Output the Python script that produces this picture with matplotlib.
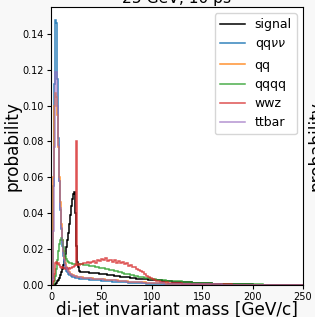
import numpy as np
from matplotlib import pyplot as plt
from matplotlib.lines import Line2D

# bin edges [GeV]: 1 GeV up to 30, 2 GeV up to 120, 10 GeV up to 250
edges = np.concatenate([np.arange(0, 30, 1), np.arange(30, 120, 2), np.arange(120, 251, 10)])

labels = ["signal", "qq$\\nu\\nu$", "qq", "qqqq", "wwz", "ttbar"]

signal = [
    0, 0, 0, 0, 0.0005, 0.001, 0.002, 0.003, 0.004, 0.0055,
    0.007, 0.009, 0.011, 0.014, 0.017, 0.021, 0.025, 0.029, 0.034, 0.039,
    0.044, 0.048, 0.051, 0.052, 0.040, 0.022, 0.013, 0.010, 0.008, 0.0075,
    0.0072, 0.0071, 0.007, 0.007, 0.0069, 0.0068, 0.0067, 0.0066, 0.0065, 0.0064,
    0.0062, 0.0061, 0.006, 0.0058, 0.0056, 0.0054, 0.0052, 0.005, 0.0048, 0.0047,
    0.0046, 0.0044, 0.0043, 0.0042, 0.004, 0.0039, 0.0037, 0.0036, 0.0035, 0.0034,
    0.0033, 0.0032, 0.0031, 0.003, 0.003, 0.0029, 0.0028, 0.0027, 0.0026, 0.0025,
    0.0024, 0.0023, 0.0022, 0.0021, 0.002,
    0.0018, 0.0014, 0.0011, 0.0009, 0.0007, 0.0005, 0.0004, 0.0003, 0.0002, 0.0002,
    0.0001, 0.0001, 0.0001,
]
qqvv = [
    0, 0.004, 0.055, 0.112, 0.148, 0.146, 0.115, 0.082, 0.058, 0.042,
    0.031, 0.022, 0.016, 0.012, 0.0095, 0.008, 0.007, 0.0062, 0.0057, 0.0053,
    0.005, 0.0047, 0.0045, 0.0043, 0.0041, 0.004, 0.0038, 0.0037, 0.0036, 0.0035,
    0.0034, 0.0033, 0.0032, 0.0031, 0.003, 0.0029, 0.0028, 0.0027, 0.0026, 0.0025,
    0.0024, 0.0023, 0.0022, 0.0021, 0.002, 0.0019, 0.0018, 0.0017, 0.0016, 0.0016,
    0.0015, 0.0014, 0.0014, 0.0013, 0.0012, 0.0012, 0.0011, 0.0011, 0.001, 0.001,
    0.0009, 0.0009, 0.0008, 0.0008, 0.0008, 0.0007, 0.0007, 0.0007, 0.0006, 0.0006,
    0.0006, 0.0006, 0.0005, 0.0005, 0.0005,
    0.0004, 0.0004, 0.0003, 0.0003, 0.0002, 0.0002, 0.0002, 0.0001, 0.0001, 0.0001,
    0.0001, 0, 0,
]
qq = [
    0, 0.005, 0.06, 0.10, 0.107, 0.105, 0.095, 0.077, 0.060, 0.046,
    0.034, 0.025, 0.019, 0.015, 0.012, 0.010, 0.0088, 0.0078, 0.007, 0.0064,
    0.006, 0.0057, 0.0054, 0.0052, 0.005, 0.0048, 0.0046, 0.0045, 0.0044, 0.0043,
    0.0042, 0.0041, 0.004, 0.0039, 0.0038, 0.0037, 0.0036, 0.0035, 0.0034, 0.0033,
    0.0032, 0.0031, 0.003, 0.0029, 0.0028, 0.0027, 0.0026, 0.0025, 0.0024, 0.0023,
    0.0022, 0.0021, 0.002, 0.0019, 0.0019, 0.0018, 0.0017, 0.0016, 0.0016, 0.0015,
    0.0014, 0.0014, 0.0013, 0.0013, 0.0012, 0.0011, 0.0011, 0.001, 0.001, 0.001,
    0.0009, 0.0009, 0.0008, 0.0008, 0.0007,
    0.0006, 0.0005, 0.0004, 0.0004, 0.0003, 0.0002, 0.0002, 0.0001, 0.0001, 0.0001,
    0.0001, 0, 0,
]
qqqq = [
    0, 0, 0.0005, 0.002, 0.005, 0.009, 0.014, 0.019, 0.023, 0.025,
    0.026, 0.025, 0.021, 0.018, 0.016, 0.0145, 0.0135, 0.013, 0.0125, 0.012,
    0.012, 0.0119, 0.0118, 0.0118, 0.0117, 0.0117, 0.0116, 0.0116, 0.0115, 0.0115,
    0.0115, 0.0114, 0.0112, 0.011, 0.0108, 0.0106, 0.0104, 0.0101, 0.0099, 0.0097,
    0.0095, 0.0092, 0.009, 0.0087, 0.0084, 0.0081, 0.0078, 0.0076, 0.0073, 0.007,
    0.0067, 0.0064, 0.0062, 0.006, 0.0058, 0.0055, 0.0052, 0.005, 0.0047, 0.0045,
    0.0043, 0.0041, 0.004, 0.0038, 0.0036, 0.0034, 0.0032, 0.003, 0.0029, 0.0028,
    0.0026, 0.0025, 0.0024, 0.0023, 0.0022,
    0.002, 0.0016, 0.0013, 0.001, 0.0008, 0.0006, 0.0005, 0.0004, 0.0003, 0.0002,
    0.0002, 0.0001, 0.0001,
]
wwz = [
    0, 0, 0.002, 0.006, 0.012, 0.013, 0.0115, 0.012, 0.011, 0.010,
    0.0095, 0.0098, 0.0092, 0.0095, 0.009, 0.0093, 0.0088, 0.0092, 0.009, 0.0095,
    0.0093, 0.0098, 0.010, 0.0105, 0.011, 0.080, 0.011, 0.0115, 0.011, 0.0118,
    0.0115, 0.0125, 0.012, 0.013, 0.0122, 0.0128, 0.0135, 0.0125, 0.014, 0.0132,
    0.0145, 0.0138, 0.015, 0.0135, 0.0142, 0.013, 0.0138, 0.0125, 0.0132, 0.012,
    0.0126, 0.0115, 0.012, 0.0108, 0.0112, 0.0098, 0.0102, 0.009, 0.0085, 0.0078,
    0.007, 0.006, 0.0052, 0.0045, 0.0038, 0.0032, 0.0028, 0.0024, 0.0021, 0.0019,
    0.0017, 0.0015, 0.0014, 0.0013, 0.0012,
    0.001, 0.0008, 0.0006, 0.0005, 0.0004, 0.0003, 0.0002, 0.0002, 0.0001, 0.0001,
    0.0001, 0, 0,
]
ttbar = [
    0, 0.003, 0.03, 0.077, 0.119, 0.119, 0.10, 0.078, 0.058, 0.043,
    0.032, 0.024, 0.018, 0.014, 0.011, 0.0095, 0.0085, 0.0075, 0.0068, 0.0062,
    0.0058, 0.0055, 0.0052, 0.005, 0.0048, 0.0046, 0.0045, 0.0044, 0.0043, 0.0042,
    0.0041, 0.004, 0.0039, 0.0038, 0.0037, 0.0036, 0.0035, 0.0034, 0.0033, 0.0032,
    0.0031, 0.003, 0.0029, 0.0028, 0.0027, 0.0026, 0.0025, 0.0024, 0.0023, 0.0022,
    0.0021, 0.002, 0.0019, 0.0018, 0.0018, 0.0017, 0.0016, 0.0015, 0.0015, 0.0014,
    0.0013, 0.0013, 0.0012, 0.0012, 0.0011, 0.0011, 0.001, 0.001, 0.0009, 0.0009,
    0.0009, 0.0008, 0.0008, 0.0007, 0.0007,
    0.0006, 0.0005, 0.0004, 0.0003, 0.0003, 0.0002, 0.0002, 0.0001, 0.0001, 0.0001,
    0.0001, 0, 0,
]

series = [signal, qqvv, qq, qqqq, wwz, ttbar]
colors = ["black", "C0", "C1", "C2", "C3", "C4"]
alphas = [1.0, 0.9, 0.85, 0.85, 0.8, 0.7]

fig = plt.figure(figsize=(3.15, 3.17), dpi=100, facecolor="#f8f8f8")
ax = fig.add_axes([0.162, 0.101, 0.8, 0.877])

centers = edges[:-1]
handles = []
for vals, lab, c, a in zip(series, labels, colors, alphas):
    ax.hist(centers, bins=edges, weights=vals, histtype="step", color=c,
            alpha=a, linewidth=1.1)
    handles.append(Line2D([], [], color=c, alpha=a, linewidth=1.1, label=lab))

ax.set_xlim(0, 250)
ax.set_ylim(0, 0.155)
ax.set_yticks(np.arange(0, 0.15, 0.02))
ax.tick_params(labelsize=7, length=3, pad=2)
ax.set_xlabel("di-jet invariant mass [GeV/c]", fontsize=12.2, labelpad=-1)
ax.set_ylabel("probability", fontsize=12.2, labelpad=1)
ax.set_title("25 GeV, 10 ps", fontsize=11.2, pad=3)
ax.legend(handles=handles, loc="upper right", fontsize=9)

# neighbouring panel's label, cut off at the right edge
fig.text(0.976, 0.54, "probability", rotation=90, fontsize=12.2,
         ha="left", va="center")

plt.savefig("out.png", dpi=100, facecolor=fig.get_facecolor())
